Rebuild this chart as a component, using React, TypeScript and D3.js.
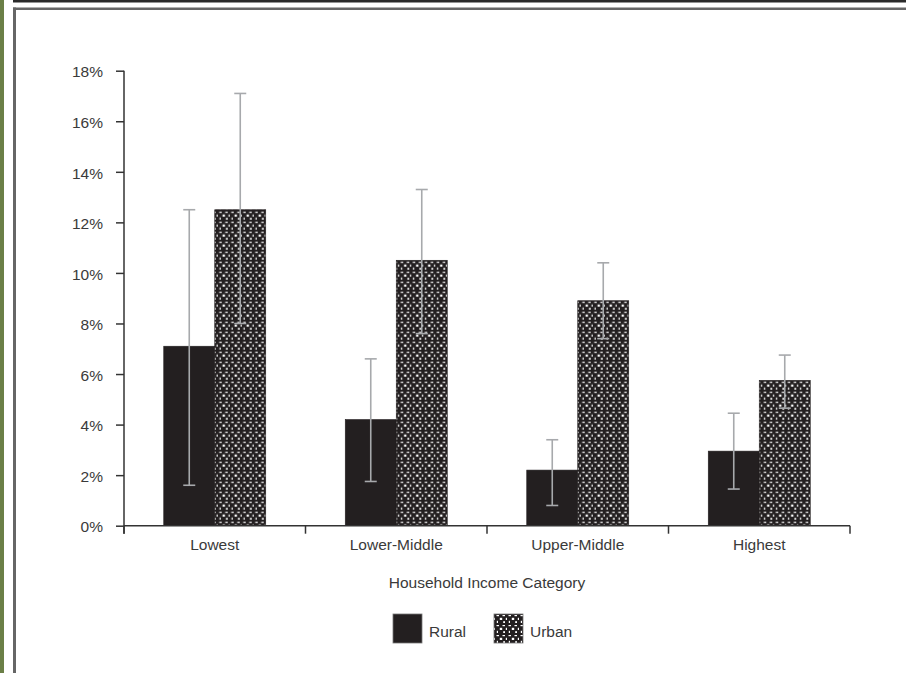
import React, { useRef, useEffect } from 'react'
import * as d3 from 'd3'

const categories = ['Lowest', 'Lower-Middle', 'Upper-Middle', 'Highest']
const seriesNames = ['Rural', 'Urban']
const ruralValues = [7.1, 4.2, 2.2, 2.95]
const ruralLow = [1.6, 1.75, 0.8, 1.45]
const ruralHigh = [12.5, 6.6, 3.4, 4.45]
const urbanValues = [12.5, 10.5, 8.9, 5.75]
const urbanLow = [8.0, 7.6, 7.4, 4.65]
const urbanHigh = [17.1, 13.3, 10.4, 6.75]
const yTicks = [0, 2, 4, 6, 8, 10, 12, 14, 16, 18]
const xAxisLabel = 'Household Income Category'

const FONT = "'Liberation Sans', Arial, sans-serif"
const FS = '15.5px'

export default function App() {
    const visEl = useRef(null)
    const width = 906
    const height = 673

    useEffect(() => {
        const root = d3.select(visEl.current)
        root.selectAll('*').remove()
        const svg = root.append('svg')
            .attr('width', width)
            .attr('height', height)
            .style('display', 'block')

        // frame
        svg.append('rect').attr('x', 0).attr('y', 0).attr('width', width).attr('height', height).attr('fill', '#fff')
        svg.append('rect').attr('x', 0).attr('y', 0).attr('width', 4).attr('height', height).attr('fill', '#6b7f47')
        svg.append('rect').attr('x', 13).attr('y', 0).attr('width', width - 13).attr('height', 2.5).attr('fill', '#2a2a2a')
        svg.append('rect').attr('x', 13).attr('y', 7.5).attr('width', width - 13).attr('height', 2.5).attr('fill', '#666')
        svg.append('rect').attr('x', 13).attr('y', 7.5).attr('width', 3).attr('height', height).attr('fill', '#666')

        // pattern for urban bars
        const defs = svg.append('defs')
        const pat = defs.append('pattern')
            .attr('id', 'urbanDots')
            .attr('patternUnits', 'userSpaceOnUse')
            .attr('width', 12).attr('height', 10)
        pat.append('rect').attr('width', 12).attr('height', 10).attr('fill', '#231f20')
        const dots = [
            [1.5, 1, 2.5, 1.2], [7.5, 1, 2.5, 1.2],
            [0, 3.8, 1.2, 2.2], [4.8, 3.8, 1.2, 2.2], [10.8, 3.8, 1.2, 2.2],
            [2.2, 7.2, 1.8, 1.8], [7.8, 6.8, 1.2, 2.2]
        ]
        dots.forEach(d => {
            pat.append('rect').attr('x', d[0]).attr('y', d[1]).attr('width', d[2]).attr('height', d[3]).attr('fill', '#fff')
        })

        const margin = { left: 124, right: 56, top: 70.7, bottom: 147.3 }
        const innerWidth = width - margin.left - margin.right
        const innerHeight = height - margin.top - margin.bottom

        const x = d3.scaleBand().domain(categories).range([0, innerWidth]).paddingInner(0).paddingOuter(0)
        const x1 = d3.scaleBand().domain(seriesNames).range([0, 102]).padding(0)
        const y = d3.scaleLinear().domain([0, 18]).range([innerHeight, 0])

        const g = svg.append('g').attr('transform', `translate(${margin.left},${margin.top})`)

        const rows = categories.map((c, i) => ({
            cat: c,
            vals: [
                { key: 'Rural', v: ruralValues[i], lo: ruralLow[i], hi: ruralHigh[i] },
                { key: 'Urban', v: urbanValues[i], lo: urbanLow[i], hi: urbanHigh[i] }
            ]
        }))

        const groups = g.selectAll('.grp').data(rows).enter().append('g')
            .attr('transform', d => `translate(${x(d.cat) + x.bandwidth() / 2 - 51},0)`)

        groups.selectAll('rect').data(d => d.vals).enter().append('rect')
            .attr('x', d => x1(d.key))
            .attr('y', d => y(d.v))
            .attr('width', x1.bandwidth())
            .attr('height', d => innerHeight - y(d.v))
            .attr('fill', d => d.key === 'Rural' ? '#231f20' : 'url(#urbanDots)')
            .attr('stroke', '#231f20')
            .attr('stroke-width', 0.6)

        // error bars
        const eb = groups.selectAll('.eb').data(d => d.vals).enter().append('g')
            .attr('stroke', '#a7a9ac').attr('stroke-width', 1.6)
        const cx = d => x1(d.key) + x1.bandwidth() / 2
        eb.append('line').attr('x1', cx).attr('x2', cx).attr('y1', d => y(d.lo)).attr('y2', d => y(d.hi))
        eb.append('line').attr('x1', d => cx(d) - 6).attr('x2', d => cx(d) + 6).attr('y1', d => y(d.lo)).attr('y2', d => y(d.lo))
        eb.append('line').attr('x1', d => cx(d) - 6).attr('x2', d => cx(d) + 6).attr('y1', d => y(d.hi)).attr('y2', d => y(d.hi))

        // y axis
        const yAxis = d3.axisLeft(y).tickValues(yTicks).tickSize(8).tickPadding(13)
            .tickFormat(d => `${d}%`)
        const yAxisG = g.append('g').call(yAxis)
        yAxisG.select('.domain').remove()
        yAxisG.selectAll('.tick line').attr('stroke', '#333').attr('stroke-width', 1.5)
        yAxisG.selectAll('text').attr('fill', '#3a3a3a').attr('dy', '0.4em')
            .style('font-family', FONT).style('font-size', FS)
        g.append('line').attr('x1', 0).attr('x2', 0).attr('y1', y(18)).attr('y2', innerHeight + 8)
            .attr('stroke', '#333').attr('stroke-width', 1.5)

        // x axis
        const xAxisG = g.append('g').attr('transform', `translate(0,${innerHeight})`)
        xAxisG.append('line').attr('x1', 0).attr('x2', innerWidth).attr('y1', 0).attr('y2', 0)
            .attr('stroke', '#333').attr('stroke-width', 1.5)
        const bounds = categories.map(c => x(c)).concat([innerWidth])
        xAxisG.selectAll('.xt').data(bounds).enter().append('line')
            .attr('x1', d => d).attr('x2', d => d).attr('y1', 0).attr('y2', 8)
            .attr('stroke', '#333').attr('stroke-width', 1.5)
        xAxisG.selectAll('.xl').data(categories).enter().append('text')
            .attr('x', d => x(d) + x.bandwidth() / 2)
            .attr('y', 24.5)
            .attr('text-anchor', 'middle')
            .attr('fill', '#3a3a3a')
            .style('font-family', FONT).style('font-size', FS)
            .text(d => d)
        xAxisG.append('text')
            .attr('x', innerWidth / 2)
            .attr('y', 62)
            .attr('text-anchor', 'middle')
            .attr('fill', '#3a3a3a')
            .style('font-family', FONT).style('font-size', FS)
            .text(xAxisLabel)

        // legend
        const legend = svg.append('g').attr('transform', 'translate(393,614)')
        const legendX = [0, 101]
        seriesNames.forEach((s, i) => {
            legend.append('rect').attr('x', legendX[i]).attr('y', 0).attr('width', 29).attr('height', 29)
                .attr('fill', s === 'Rural' ? '#231f20' : 'url(#urbanDots)')
                .attr('stroke', '#777').attr('stroke-width', 0.8)
            legend.append('text').attr('x', legendX[i] + 36).attr('y', 23)
                .attr('fill', '#3a3a3a')
                .style('font-family', FONT).style('font-size', FS)
                .text(s)
        })
    })

    return (
        <div style={{ position: 'fixed', left: 0, top: 0 }}>
            <div ref={visEl}></div>
        </div>
    )
}
